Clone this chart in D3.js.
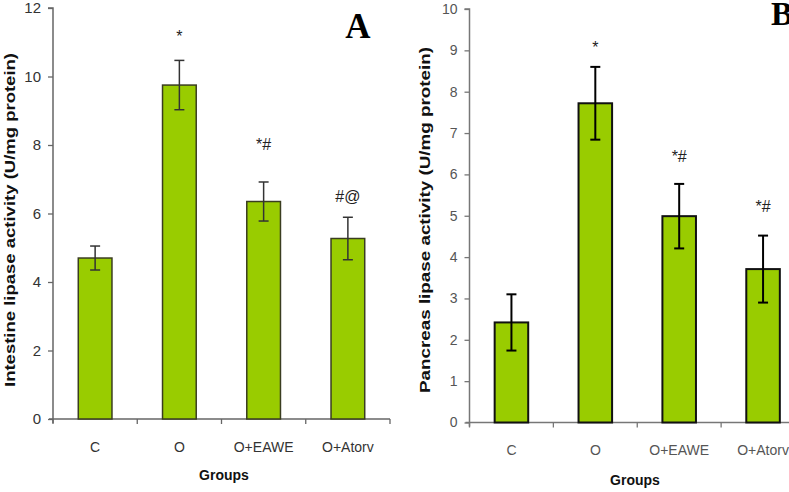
<!DOCTYPE html>
<html><head><meta charset="utf-8">
<script src="https://cdn.jsdelivr.net/npm/d3@7"></script>
<style>body{margin:0;background:#fff}svg{display:block}text{font-family:"Liberation Sans",Arial,sans-serif}</style>
</head><body>
<svg id="c" width="789" height="492"></svg>
<script>
const groups = ["C", "O", "O+EAWE", "O+Atorv"];
const intestineMean = [4.7, 9.75, 6.35, 5.27];
const intestineErr  = [0.35, 0.72, 0.57, 0.62];
const intestineMarks = ["", "*", "*#", "#@"];
const intestineMarkLevel = [0, 11.02, 7.85, 6.34];
const intestineTicks = [0, 2, 4, 6, 8, 10, 12];
const pancreasMean = [2.42, 7.72, 4.99, 3.71];
const pancreasErr  = [0.68, 0.88, 0.78, 0.81];
const pancreasMarks = ["", "*", "*#", "*#"];
const pancreasMarkLevel = [0, 8.94, 6.3, 5.08];
const pancreasTicks = [0, 1, 2, 3, 4, 5, 6, 7, 8, 9, 10];

const svg = d3.select("#c");

function panel(cfg) {
  const x = d3.scaleBand().domain(groups).range([cfg.x0, cfg.x1]).paddingInner(0.6).paddingOuter(0.3);
  const y = d3.scaleLinear().domain([0, cfg.ymax]).range([cfg.yb, cfg.yt]);
  const g = svg.append("g");
  // y axis
  const ya = d3.axisLeft(y).tickValues(cfg.ticks).tickSize(5).tickPadding(7).tickFormat(d3.format("d"));
  const yg = g.append("g").attr("transform", `translate(${cfg.x0},0)`).call(ya);
  yg.select(".domain").attr("stroke", cfg.axisColor).attr("stroke-width", 1.5).attr("d", `M-5,${cfg.yt}H0V${cfg.yb + 4}`);
  yg.selectAll(".tick line").attr("stroke", cfg.axisColor).attr("stroke-width", 1.3);
  yg.selectAll(".tick text").attr("fill", cfg.tickColor).attr("font-size", cfg.tickFont).style("font-family", '"Liberation Sans Narrow","Liberation Sans",Arial,sans-serif');
  // x axis
  const xa = d3.axisBottom(x).tickSize(0).tickPadding(cfg.xPad);
  const xg = g.append("g").attr("transform", `translate(0,${cfg.yb})`).call(xa);
  xg.select(".domain").attr("stroke", cfg.axisColor).attr("stroke-width", 1.5).attr("d", `M${cfg.x0 - 4},0H${cfg.x1}`);
  xg.selectAll(".tick text").attr("fill", cfg.tickColor).attr("font-size", 14);
  const step = x.step();
  xg.selectAll("line.bd").data(d3.range(groups.length + 1)).join("line").attr("class", "bd")
    .attr("x1", i => cfg.x0 + i * step).attr("x2", i => cfg.x0 + i * step)
    .attr("y1", 0).attr("y2", 5).attr("stroke", cfg.axisColor).attr("stroke-width", 1.3);
  // bars
  g.selectAll("rect.bar").data(cfg.mean).join("rect").attr("class", "bar")
    .attr("x", (d, i) => x(groups[i])).attr("width", x.bandwidth())
    .attr("y", d => y(d)).attr("height", d => cfg.yb - y(d))
    .attr("fill", "#99cc00").attr("stroke", cfg.barStroke).attr("stroke-width", cfg.barSW);
  // error bars
  const eb = g.selectAll("g.eb").data(cfg.mean).join("g").attr("class", "eb");
  const cx = i => x(groups[i]) + x.bandwidth() / 2;
  eb.append("line").attr("x1", (d, i) => cx(i)).attr("x2", (d, i) => cx(i))
    .attr("y1", (d, i) => y(d + cfg.err[i])).attr("y2", (d, i) => y(d - cfg.err[i]))
    .attr("stroke", cfg.errColor).attr("stroke-width", cfg.errSW);
  [1, -1].forEach(s => {
    eb.append("line").attr("x1", (d, i) => cx(i) - cfg.cap).attr("x2", (d, i) => cx(i) + cfg.cap)
      .attr("y1", (d, i) => y(d + s * cfg.err[i])).attr("y2", (d, i) => y(d + s * cfg.err[i]))
      .attr("stroke", cfg.errColor).attr("stroke-width", cfg.errSW);
  });
  // significance marks
  g.selectAll("text.mk").data(cfg.marks).join("text").attr("class", "mk")
    .attr("x", (d, i) => cx(i)).attr("y", (d, i) => y(cfg.markLevel[i]))
    .attr("text-anchor", "middle").attr("font-size", 16).attr("fill", "#222")
    .text(d => d);
  // titles
  g.append("text").attr("transform", `translate(${cfg.titleX},${cfg.titleY}) rotate(-90)`)
    .attr("text-anchor", "middle").attr("dy", "0.35em").attr("font-size", 15).attr("font-weight", "bold")
    .attr("textLength", cfg.titleLen).attr("lengthAdjust", "spacingAndGlyphs")
    .attr("fill", "#111").text(cfg.title);
  g.append("text").attr("x", cfg.groupsX).attr("y", cfg.groupsY).attr("text-anchor", "middle")
    .attr("font-size", 14).attr("font-weight", "bold").attr("fill", "#111").text("Groups");
  g.append("text").attr("x", cfg.letterX).attr("y", cfg.letterY).attr("text-anchor", "middle")
    .attr("font-size", cfg.letterSize).attr("font-weight", "bold").attr("fill", "#000")
    .style("font-family", '"Liberation Serif","Times New Roman",serif').text(cfg.letter);
}

panel({x0: 53, x1: 390, yt: 8, yb: 419, ymax: 12, ticks: intestineTicks, mean: intestineMean, err: intestineErr,
  marks: intestineMarks, markLevel: intestineMarkLevel, axisColor: "#666", tickColor: "#333", tickFont: 15, barStroke: "#3a3d20", barSW: 1.5,
  errColor: "#333", errSW: 1.5, cap: 5, xPad: 23, title: "Intestine lipase activity (U/mg protein)",
  titleX: 10, titleY: 220, titleLen: 334, groupsX: 224, groupsY: 480, letter: "A", letterX: 358, letterY: 38, letterSize: 35});
panel({x0: 469.5, x1: 805, yt: 9, yb: 422.5, ymax: 10, ticks: pancreasTicks, mean: pancreasMean, err: pancreasErr,
  marks: pancreasMarks, markLevel: pancreasMarkLevel, axisColor: "#777", tickColor: "#555", tickFont: 14, barStroke: "#111", barSW: 2,
  errColor: "#000", errSW: 2, cap: 5, xPad: 23, title: "Pancreas lipase activity (U/mg protein)",
  titleX: 425, titleY: 220, titleLen: 346, groupsX: 635, groupsY: 485, letter: "B", letterX: 782, letterY: 25, letterSize: 33});
</script>
</body></html>
